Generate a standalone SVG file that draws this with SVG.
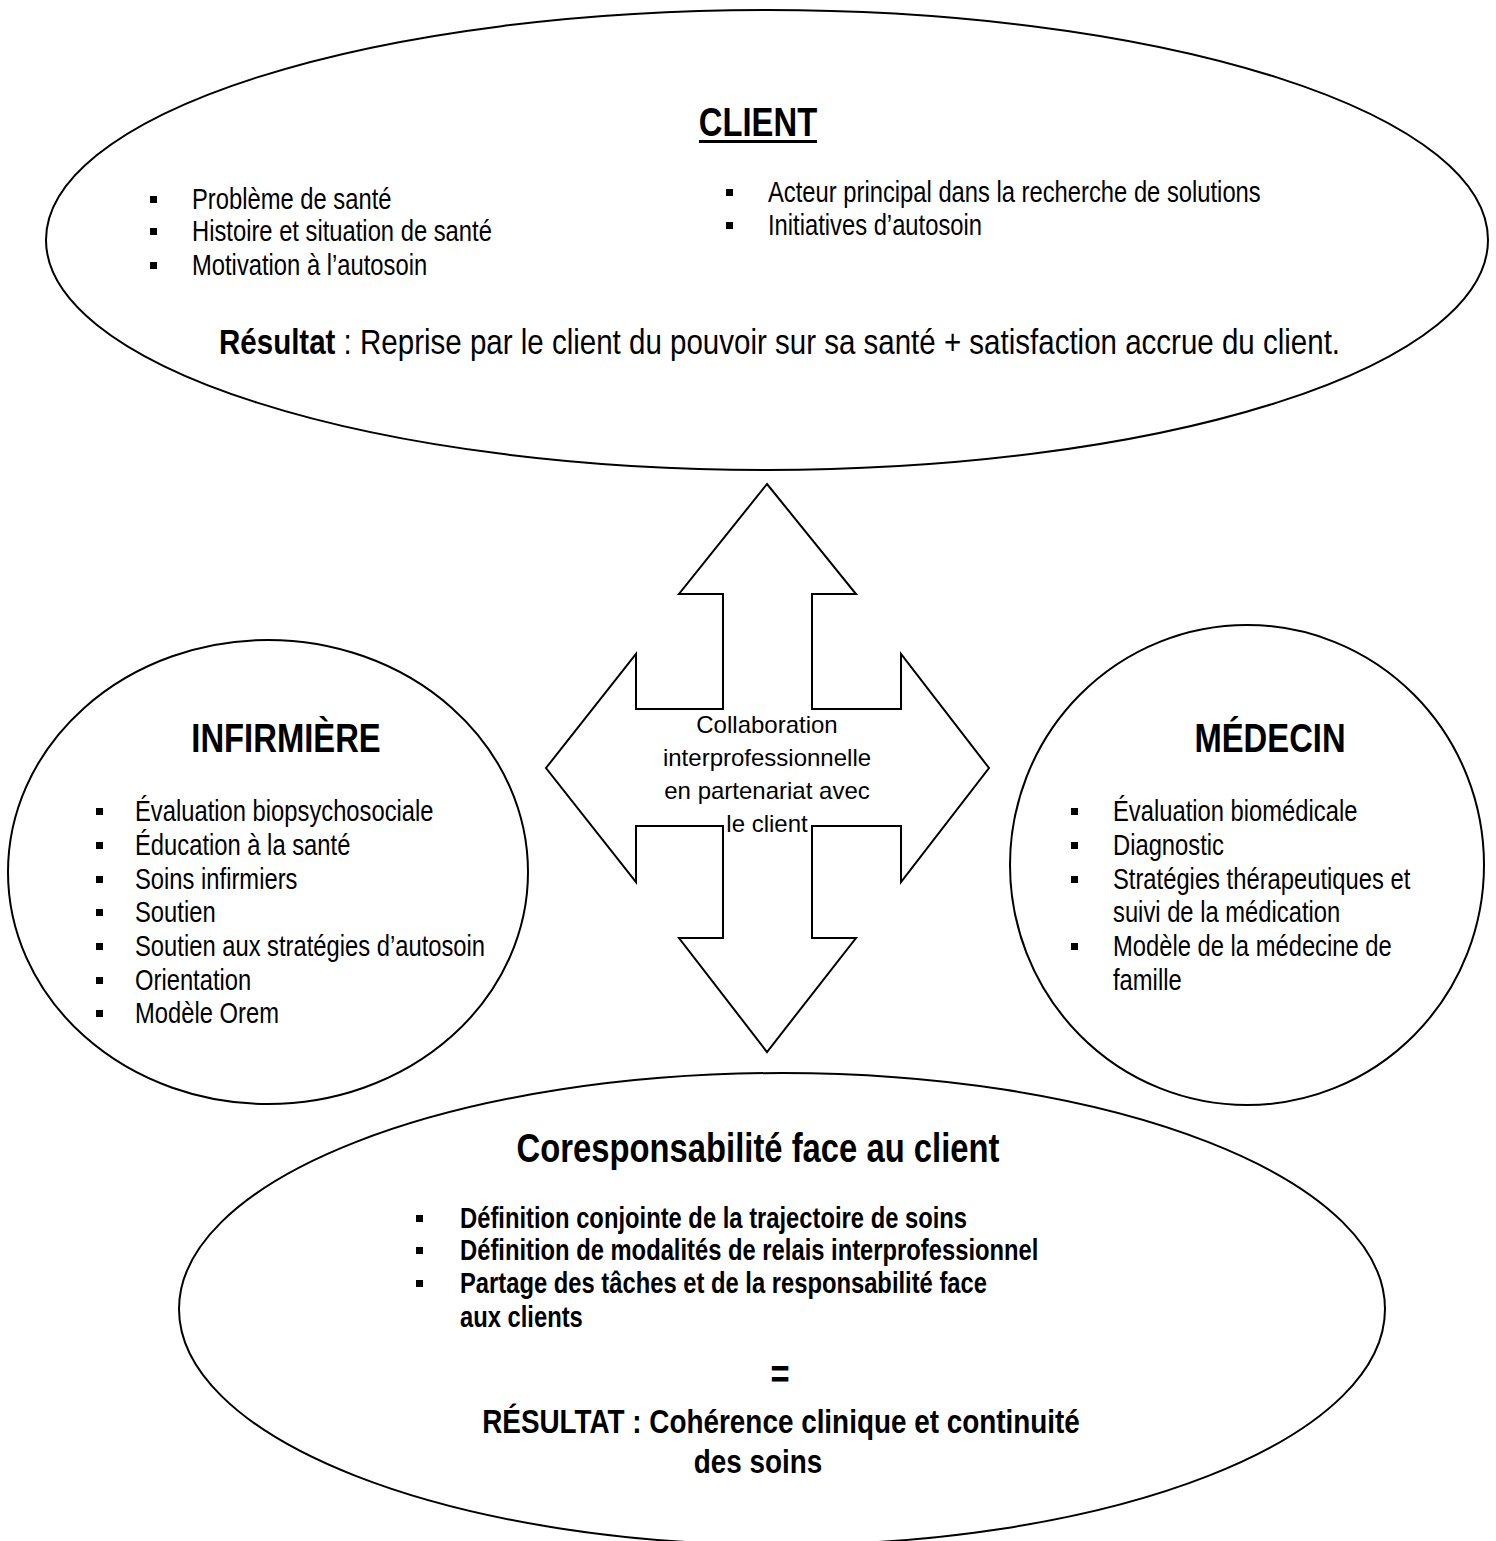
<svg xmlns="http://www.w3.org/2000/svg" width="1496" height="1541" viewBox="0 0 1496 1541">
  <style>
    .shape { fill: #ffffff; stroke: #000000; stroke-width: 2; }
    .t { font-family: "Arial Narrow", "Liberation Sans", Arial, sans-serif; fill: #000000; }
    .body { font-size: 29px; }
    .head { font-size: 40px; font-weight: bold; }
    .bold { font-weight: bold; }
    .mid { text-anchor: middle; }
    .center { font-family: "Liberation Sans", Arial, sans-serif; font-size: 24px; fill: #000000; text-anchor: middle; }
    .dot { fill: #000000; }
  </style>
  <defs>
    <rect id="sq" x="0" y="0" width="7" height="7" class="dot"/>
  </defs>
  <rect width="1496" height="1541" fill="#ffffff"/>

  <!-- four-way arrow in the middle -->
  <g id="connectors">
    <path class="shape" d="M767,484 L856,594 L812,594 L812,709 L901,709 L901,654 L989,768 L901,882 L901,826 L812,826 L812,938 L856,938 L767,1052 L679,938 L723,938 L723,826 L636,826 L636,882 L546,768 L636,654 L636,709 L723,709 L723,594 L679,594 Z"/>
    <text class="center" x="767" y="733">Collaboration</text>
    <text class="center" x="767" y="766">interprofessionnelle</text>
    <text class="center" x="767" y="799">en partenariat avec</text>
    <text class="center" x="767" y="832">le client</text>
  </g>

  <!-- client (condensed text: horizontal scale 0.82) -->
  <g id="client">
    <ellipse class="shape" cx="767" cy="240" rx="721" ry="230"/>
    <text class="t head mid" transform="translate(758,136) scale(0.82,1)">CLIENT</text>
    <rect x="699" y="140" width="118" height="3" class="dot"/>
    <use href="#sq" x="150" y="196"/>
    <use href="#sq" x="150" y="228"/>
    <use href="#sq" x="150" y="262"/>
    <text class="t body" transform="translate(192,209) scale(0.82,1)">Problème de santé</text>
    <text class="t body" transform="translate(192,241) scale(0.82,1)">Histoire et situation de santé</text>
    <text class="t body" transform="translate(192,275) scale(0.82,1)">Motivation à l’autosoin</text>
    <use href="#sq" x="726" y="189"/>
    <use href="#sq" x="726" y="222"/>
    <text class="t body" transform="translate(768,202) scale(0.82,1)">Acteur principal dans la recherche de solutions</text>
    <text class="t body" transform="translate(768,235) scale(0.82,1)">Initiatives d’autosoin</text>
    <text class="t" font-size="36" transform="translate(219,354) scale(0.82,1)"><tspan class="bold">Résultat</tspan> : Reprise par le client du pouvoir sur sa santé + satisfaction accrue du client.</text>
  </g>

  <!-- nurse -->
  <g id="infirmiere">
    <ellipse class="shape" cx="268" cy="872" rx="260" ry="232"/>
    <text class="t head mid" transform="translate(286,752) scale(0.82,1)">INFIRMIÈRE</text>
    <use href="#sq" x="96" y="808"/>
    <use href="#sq" x="96" y="842"/>
    <use href="#sq" x="96" y="876"/>
    <use href="#sq" x="96" y="909"/>
    <use href="#sq" x="96" y="943"/>
    <use href="#sq" x="96" y="977"/>
    <use href="#sq" x="96" y="1010"/>
    <text class="t body" transform="translate(135,821) scale(0.82,1)">Évaluation biopsychosociale</text>
    <text class="t body" transform="translate(135,855) scale(0.82,1)">Éducation à la santé</text>
    <text class="t body" transform="translate(135,889) scale(0.82,1)">Soins infirmiers</text>
    <text class="t body" transform="translate(135,922) scale(0.82,1)">Soutien</text>
    <text class="t body" transform="translate(135,956) scale(0.82,1)">Soutien aux stratégies d’autosoin</text>
    <text class="t body" transform="translate(135,990) scale(0.82,1)">Orientation</text>
    <text class="t body" transform="translate(135,1023) scale(0.82,1)">Modèle Orem</text>
  </g>

  <!-- physician -->
  <g id="medecin">
    <ellipse class="shape" cx="1247" cy="865" rx="237" ry="240"/>
    <text class="t head mid" transform="translate(1270,752) scale(0.82,1)">MÉDECIN</text>
    <use href="#sq" x="1071" y="808"/>
    <use href="#sq" x="1071" y="842"/>
    <use href="#sq" x="1071" y="876"/>
    <use href="#sq" x="1071" y="943"/>
    <text class="t body" transform="translate(1113,821) scale(0.82,1)">Évaluation biomédicale</text>
    <text class="t body" transform="translate(1113,855) scale(0.82,1)">Diagnostic</text>
    <text class="t body" transform="translate(1113,889) scale(0.82,1)">Stratégies thérapeutiques et</text>
    <text class="t body" transform="translate(1113,922) scale(0.82,1)">suivi de la médication</text>
    <text class="t body" transform="translate(1113,956) scale(0.82,1)">Modèle de la médecine de</text>
    <text class="t body" transform="translate(1113,990) scale(0.82,1)">famille</text>
  </g>

  <!-- shared responsibility -->
  <g id="coresponsabilite">
    <ellipse class="shape" cx="782" cy="1309" rx="603" ry="236"/>
    <text class="t bold mid" font-size="40" transform="translate(758,1162) scale(0.82,1)">Coresponsabilité face au client</text>
    <use href="#sq" x="416" y="1215"/>
    <use href="#sq" x="416" y="1247"/>
    <use href="#sq" x="416" y="1280"/>
    <text class="t body bold" transform="translate(460,1228) scale(0.82,1)">Définition conjointe de la trajectoire de soins</text>
    <text class="t body bold" transform="translate(460,1260) scale(0.82,1)">Définition de modalités de relais interprofessionnel</text>
    <text class="t body bold" transform="translate(460,1293) scale(0.82,1)">Partage des tâches et de la responsabilité face</text>
    <text class="t body bold" transform="translate(460,1327) scale(0.82,1)">aux clients</text>
    <text class="t bold mid" font-size="40" transform="translate(780,1388) scale(0.82,1)">=</text>
    <text class="t bold mid" font-size="34" transform="translate(781,1433) scale(0.82,1)">RÉSULTAT : Cohérence clinique et continuité</text>
    <text class="t bold mid" font-size="34" transform="translate(758,1473) scale(0.82,1)">des soins</text>
  </g>
</svg>
